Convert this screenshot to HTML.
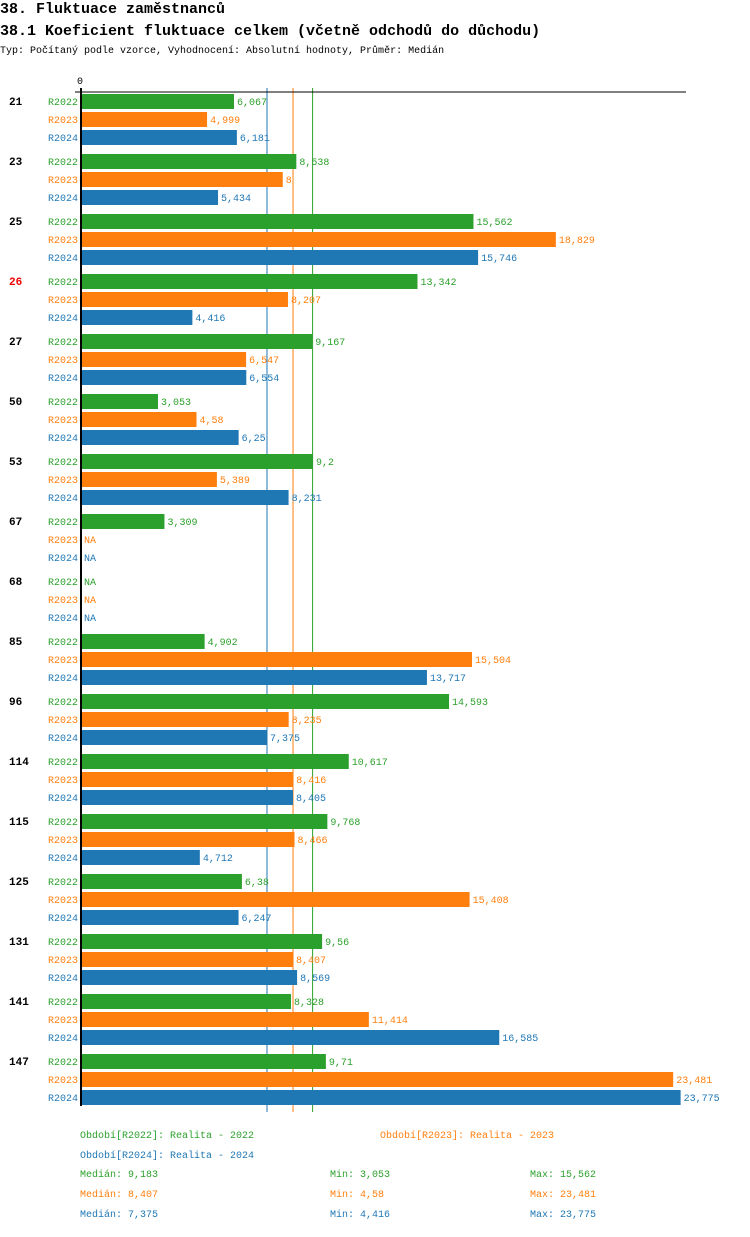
<!DOCTYPE html>
<html><head><meta charset="utf-8"><style>
body{margin:0;background:#fff;font-family:"Liberation Mono",monospace;}
svg text{font-family:"Liberation Mono",monospace;}
</style></head><body>
<svg id="c" width="750" height="1232" xmlns="http://www.w3.org/2000/svg">
<text x="0" y="13" font-size="15" font-weight="bold">38. Fluktuace zaměstnanců</text>
<text x="0" y="35" font-size="15" font-weight="bold">38.1 Koeficient fluktuace celkem (včetně odchodů do důchodu)</text>
<text x="0" y="53" font-size="10">Typ: Počítaný podle vzorce, Vyhodnocení: Absolutní hodnoty, Průměr: Medián</text>
<text x="77" y="84" font-size="10">0</text>
<g id="medians"></g>
<line x1="75" y1="92" x2="686" y2="92" stroke="#000" stroke-width="1"/>
<line x1="81" y1="88" x2="81" y2="1106" stroke="#000" stroke-width="2"/>
<g id="marks"></g>
</svg>
<script>
const groups=["21","23","25","26","27","50","53","67","68","85","96","114","115","125","131","141","147"];
const series=["R2022","R2023","R2024"];
const v2022=[6.067,8.538,15.562,13.342,9.167,3.053,9.2,3.309,null,4.902,14.593,10.617,9.768,6.38,9.56,8.328,9.71];
const v2023=[4.999,8,18.829,8.207,6.547,4.58,5.389,null,null,15.504,8.235,8.416,8.466,15.408,8.407,11.414,23.481];
const v2024=[6.181,5.434,15.746,4.416,6.554,6.25,8.231,null,null,13.717,7.375,8.405,4.712,6.247,8.569,16.585,23.775];
const medians=[9.183,8.407,7.375];
const mins=[3.053,4.58,4.416];
const maxs=[15.562,23.481,23.775];
const colors=["#2ca02c","#ff7f0e","#1f77b4"];
const vals=[v2022,v2023,v2024];
const NS="http://www.w3.org/2000/svg";
const g=document.getElementById('marks');
const gm=document.getElementById('medians');
const x=v=>81+v*25.22;
const fmt=v=>String(v).replace('.',',');
function el(t,a,p){const e=document.createElementNS(NS,t);for(const k in a)e.setAttribute(k,a[k]);(p||g).appendChild(e);return e;}
medians.forEach((m,j)=>{
  const ln=el('line',{x1:x(m),x2:x(m),y1:88,y2:1112,stroke:colors[j],'stroke-width':1},gm);
  
  
});
groups.forEach((gr,i)=>{
  const y0=92+i*60;
  const t=el('text',{x:9,y:y0+13,'font-size':11,'font-weight':'bold',fill:gr==="26"?"#e00":"#000"});
  t.textContent=gr;
  
  
  series.forEach((s,j)=>{
    const ry=y0+2+j*18;const v=vals[j][i];
    const l=el('text',{x:78,y:ry+11,'font-size':10,fill:colors[j],'text-anchor':'end'});
    l.textContent=s;
    
    
    if(v!==null){
      const r=el('rect',{x:82,y:ry,width:x(v)-82,height:15,fill:colors[j]});
      
      
    }
    const vt=el('text',{x:(v!==null?x(v):81)+3,y:ry+11,'font-size':10,fill:colors[j]});
    vt.textContent=v!==null?fmt(v):"NA";
    
    
  });
});
const leg=[[80,1138,0,"Období[R2022]: Realita - 2022"],[380,1138,1,"Období[R2023]: Realita - 2023"],[80,1158,2,"Období[R2024]: Realita - 2024"]];
leg.forEach(a=>{const t=el('text',{x:a[0],y:a[1],'font-size':10,fill:colors[a[2]]});t.textContent=a[3];

});
series.forEach((s,j)=>{
  const y=1177+j*20;
  [[80,"Medián: "+fmt(medians[j])],[330,"Min: "+fmt(mins[j])],[530,"Max: "+fmt(maxs[j])]].forEach(c=>{
    const t=el('text',{x:c[0],y:y,'font-size':10,fill:colors[j]});t.textContent=c[1];
    
    
  });
});
</script>
</body></html>
